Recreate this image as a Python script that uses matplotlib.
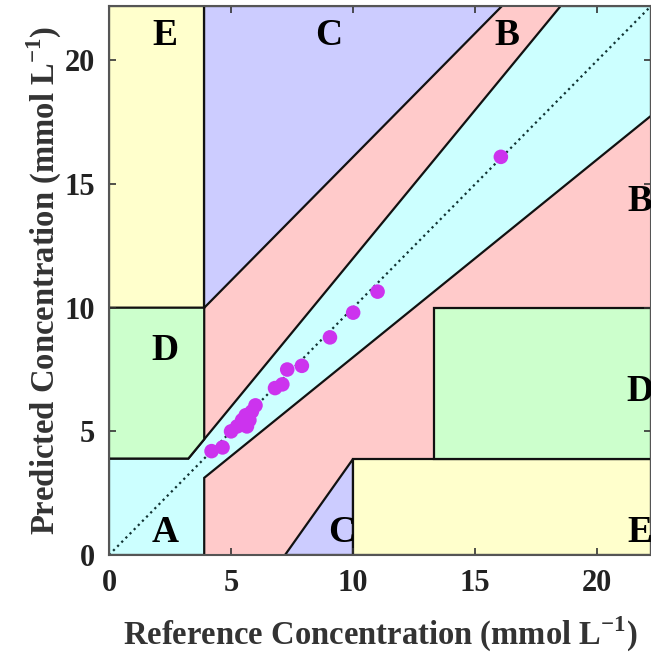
import matplotlib
matplotlib.use('Agg')
import matplotlib.pyplot as plt
from matplotlib.patches import Polygon

# reference vs predicted glucose (mmol/L)
ref = [4.2, 4.65, 5.0, 5.25, 5.45, 5.6, 5.65, 5.75, 5.85, 6.0,
       6.8, 7.1, 7.3, 7.9, 9.05, 10.0, 11.0, 16.05]
pred = [4.2, 4.35, 5.0, 5.2, 5.45, 5.65, 5.2, 5.45, 5.8, 6.05,
        6.75, 6.9, 7.5, 7.65, 8.8, 9.8, 10.65, 16.1]

zone_colors = {'A': '#ccffff', 'B': '#ffcaca', 'C': '#ccccff',
               'D': '#ccffcc', 'E': '#ffffcc'}

lim = 22.2

zones = [
    ('A', [(0, 0), (3.9, 0), (3.9, 3.9 * 0.8), (lim, lim * 0.8),
           (lim, lim), (lim / 1.2, lim), (3.9 / 1.2, 3.9), (0, 3.9)]),
    ('C', [(3.9, 10), (3.9, lim), (lim - 6.1, lim)]),
    ('C', [(7.22, 0), (10, 0), (10, 3.9)]),
    ('E', [(0, 10), (3.9, 10), (3.9, lim), (0, lim)]),
    ('E', [(10, 0), (lim, 0), (lim, 3.9), (10, 3.9)]),
    ('D', [(0, 3.9), (3.25, 3.9), (3.9, 4.68), (3.9, 10), (0, 10)]),
    ('D', [(13.3, 3.9), (lim, 3.9), (lim, 10), (13.3, 10)]),
]

labels = [('E', 2.3, 21.0), ('C', 9.0, 21.0), ('B', 16.3, 21.0),
          ('B', 21.75, 14.3), ('D', 2.3, 8.25), ('D', 21.75, 6.6),
          ('A', 2.3, 0.9), ('C', 9.55, 0.9), ('E', 21.75, 0.9)]

plt.rcParams['font.family'] = ['Liberation Serif', 'DejaVu Serif']
plt.rcParams['mathtext.fontset'] = 'custom'
plt.rcParams['mathtext.bf'] = 'Liberation Serif:bold'
plt.rcParams['mathtext.rm'] = 'Liberation Serif:bold'

fig = plt.figure(figsize=(6.51, 6.64), dpi=100)
ax = fig.add_axes([109 / 651, 109 / 664, 542 / 651, 549 / 664])
ax.set_facecolor(zone_colors['B'])

for name, pts in zones:
    ax.add_patch(Polygon(pts, closed=True, facecolor=zone_colors[name],
                         edgecolor='#111111', lw=1.6, zorder=1))

ax.plot([0, lim], [0, lim], ':', color='#113333', lw=1.6, zorder=2)
ax.scatter(ref, pred, s=110, color='#cc33ee', edgecolors='none', zorder=3)

for txt, x, y in labels:
    ax.text(x, y, txt, fontsize=27, fontweight='bold', ha='center',
            va='center', zorder=4, clip_on=True)

ax.set_xlim(0, lim)
ax.set_ylim(0, lim)
ax.set_xticks([0, 5, 10, 15, 20])
ax.set_yticks([0, 5, 10, 15, 20])
ax.tick_params(direction='in', top=True, right=True, labelsize=22,
               length=5, width=1.2, colors='#333333', pad=10)
for lab in ax.get_xticklabels() + ax.get_yticklabels():
    lab.set_fontweight('bold')
    lab.set_color('#222222')
for sp in ax.spines.values():
    sp.set_color('#555555')
    sp.set_linewidth(1.5)

ax.set_xlabel('Reference Concentration (mmol L$^{-1}$)', fontsize=23.5,
              fontweight='bold', color='#333333', labelpad=12)
ax.set_ylabel('Predicted Concentration (mmol L$^{-1}$)', fontsize=23.5,
              fontweight='bold', color='#333333', labelpad=0)

plt.savefig('out.png', dpi=100)
